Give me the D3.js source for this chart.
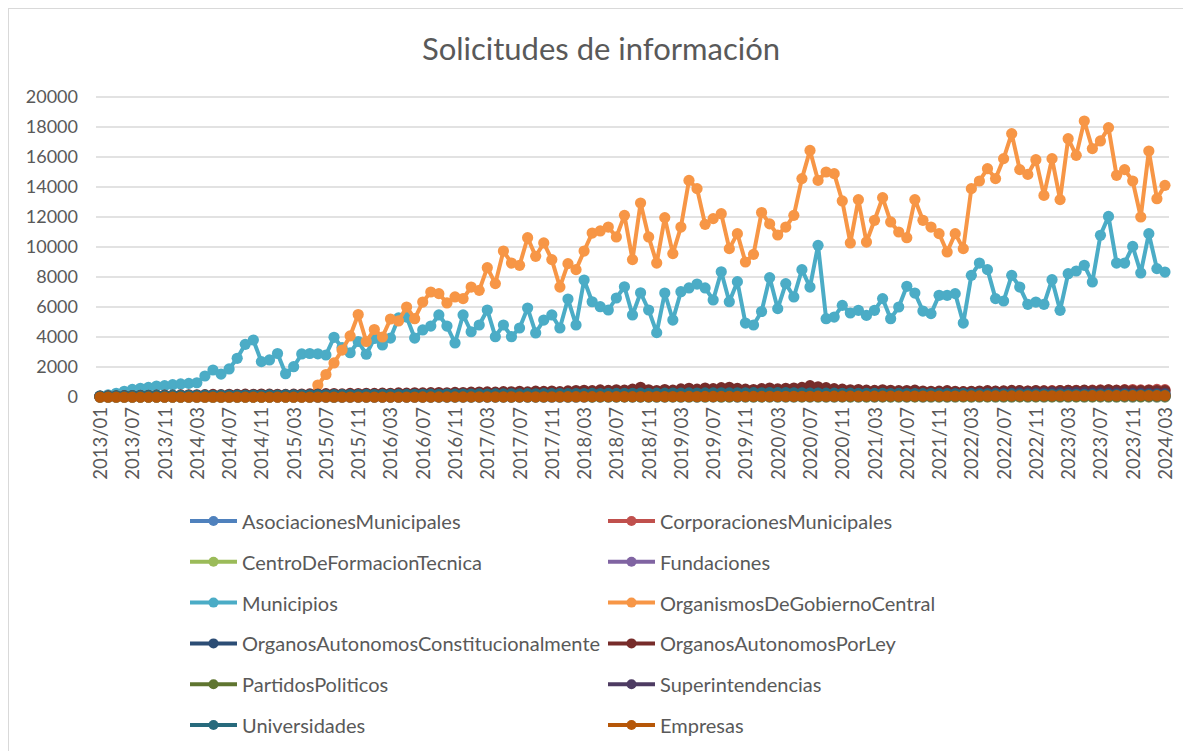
<!DOCTYPE html>
<html><head><meta charset="utf-8">
<script src="https://cdn.jsdelivr.net/npm/d3@7"></script>
<style>body{margin:0;background:#fff}svg{display:block}text{font-family:Lato,"Open Sans",sans-serif;fill:#595959}</style>
</head><body><svg id="c" width="1183" height="751"></svg>
<script>
const months = [
"2013/01","2013/04","2013/05","2013/06","2013/07","2013/08","2013/09","2013/10","2013/11","2013/12",
"2014/01","2014/02","2014/03","2014/04","2014/05","2014/06","2014/07","2014/08","2014/09","2014/10","2014/11","2014/12",
"2015/01","2015/02","2015/03","2015/04","2015/05","2015/06","2015/07","2015/08","2015/09","2015/10","2015/11","2015/12",
"2016/01","2016/02","2016/03","2016/04","2016/05","2016/06","2016/07","2016/08","2016/09","2016/10","2016/11","2016/12",
"2017/01","2017/02","2017/03","2017/04","2017/05","2017/06","2017/07","2017/08","2017/09","2017/10","2017/11","2017/12",
"2018/01","2018/02","2018/03","2018/04","2018/05","2018/06","2018/07","2018/08","2018/09","2018/10","2018/11","2018/12",
"2019/01","2019/02","2019/03","2019/04","2019/05","2019/06","2019/07","2019/08","2019/09","2019/10","2019/11","2019/12",
"2020/01","2020/02","2020/03","2020/04","2020/05","2020/06","2020/07","2020/08","2020/09","2020/10","2020/11","2020/12",
"2021/01","2021/02","2021/03","2021/04","2021/05","2021/06","2021/07","2021/08","2021/09","2021/10","2021/11","2021/12",
"2022/01","2022/02","2022/03","2022/04","2022/05","2022/06","2022/07","2022/08","2022/09","2022/10","2022/11","2022/12",
"2023/01","2023/02","2023/03","2023/04","2023/05","2023/06","2023/07","2023/08","2023/09","2023/10","2023/11","2023/12",
"2024/01","2024/02","2024/03"];

const yTicks = [0,2000,4000,6000,8000,10000,12000,14000,16000,18000,20000];

const asociaciones = [0,0,0,0,0,0,0,0,0,0,0,0,0,0,0,0,0,0,0,0,0,0,0,0,0,0,0,0,0,0,0,0,0,0,0,0,0,0,0,0,
2,1,3,2,4,2,3,1,2,4,3,2,5,3,4,2,3,5,4,3,6,4,5,3,4,6,5,4,3,5,4,6,5,3,4,5,6,4,5,3,
4,5,6,4,3,5,4,6,5,4,3,5,6,4,5,4,3,6,5,4,5,6,4,5,3,4,5,6,5,4,6,5,4,5,6,4,7,5,6,5,
4,6,5,7,6,5,4,6,5,7,6,5,6];
const corporaciones = [0,0,0,0,0,0,0,0,0,0,0,0,0,0,0,0,0,0,0,0,0,0,0,0,0,0,0,0,0,0,0,0,0,0,0,0,0,0,0,0,
10,15,20,18,25,22,30,28,35,30,40,38,45,50,48,55,60,58,65,70,80,75,90,85,100,95,110,105,120,115,130,125,140,135,150,145,160,155,170,165,
180,175,190,185,200,195,210,205,220,215,230,240,235,250,245,260,270,265,280,290,285,300,310,305,320,330,325,340,350,360,355,370,380,375,390,400,410,405,420,430,
440,450,430,460,470,480,460,490,500,470,480,510,490];
const centro = [0,0,0,0,0,0,0,0,0,0,0,0,0,0,0,0,0,0,0,0,1,0,1,0,1,1,0,1,1,0,1,1,2,1,1,0,1,2,1,1,
1,2,1,2,1,1,2,2,1,2,3,2,1,2,2,3,2,1,2,3,2,2,3,2,1,3,2,2,3,2,2,3,2,1,2,3,2,2,3,2,
3,2,2,3,2,1,2,3,2,2,3,2,2,3,2,2,3,2,1,2,3,2,2,3,2,2,3,2,2,3,2,2,3,2,2,3,2,2,3,2,
2,3,2,2,3,2,2,3,2,2,3,2,2];
const fundaciones = [0,0,0,0,0,0,0,0,0,0,0,0,0,0,0,0,0,0,0,0,0,0,0,0,0,0,0,0,0,0,0,0,0,0,0,0,0,0,0,0,
0,0,0,0,0,0,0,0,0,0,0,0,0,0,0,0,0,0,0,0,5,8,6,10,9,12,11,14,10,13,12,15,14,16,13,17,15,18,16,14,
17,19,18,20,22,19,21,18,20,23,21,19,22,24,20,23,21,22,25,23,21,24,22,26,24,22,25,27,23,26,24,25,28,26,24,27,25,28,30,27,
29,26,28,31,29,27,30,28,29,32,30,28,31];
const municipios = [80,150,250,380,510,580,640,730,755,820,870,910,950,1400,1800,1530,1870,2580,3510,3800,
2360,2470,2900,1550,2020,2870,2900,2880,2800,3980,3300,2950,3700,2850,3900,3470,3930,5270,5330,3930,
4470,4730,5470,4730,3600,5470,4350,4800,5800,4020,4800,4020,4600,5930,4270,5130,5470,4600,6530,4800,
7800,6350,6020,5800,6600,7350,5470,6950,5800,4290,6930,5130,7020,7270,7530,7270,6470,8350,6350,7690,
4930,4800,5700,7960,5890,7560,6670,8490,7330,10110,5220,5330,6110,5600,5780,5440,5780,6560,5220,6000,
7380,6930,5730,5560,6780,6780,6890,4930,8110,8930,8490,6560,6400,8110,7330,6180,6330,6180,7820,5780,
8220,8400,8780,7670,10780,12040,8930,8930,10040,8270,10890,8560,8330];
const organismos = [0,0,0,0,0,0,0,0,0,0,0,0,0,0,0,0,0,0,0,0,0,0,0,0,0,0,0,800,1500,2270,
3130,4070,5500,3700,4500,4000,5200,5070,6000,5220,6330,7000,6890,6270,6670,6560,7330,7110,8620,7560,
9730,8930,8780,10620,9380,10270,9160,7330,8890,8490,9730,10930,11070,11330,10670,12110,9160,12930,10670,8930,
11960,9560,11330,14440,13890,11510,11890,12220,9890,10890,9000,9510,12300,11540,10800,11330,12110,14560,16440,14440,
15000,14890,13070,10270,13160,10330,11780,13290,11670,11000,10620,13160,11780,11330,10890,9670,10890,9890,13890,14400,
15220,14560,15890,17560,15160,14840,15820,13440,15890,13160,17220,16110,18400,16560,17070,17960,14780,15160,14400,12000,
16400,13220,14110];
const constitucionales = [30,35,40,38,45,50,48,55,52,60,58,65,62,70,68,75,72,80,78,85,82,90,88,95,92,100,98,105,102,110,
108,115,112,120,118,125,122,130,128,135,132,140,138,145,142,150,148,155,152,160,158,165,162,170,168,175,172,180,178,185,
182,190,186,195,190,200,194,205,198,210,202,215,206,220,210,225,214,230,218,235,222,240,226,245,230,238,226,232,220,226,
214,220,208,214,202,208,196,202,190,196,184,190,178,184,172,178,166,172,160,166,154,160,148,154,142,148,136,142,130,136,
124,130,118,124,112,118,106,112,100,106,94,100,90];
const porLey = [60,70,80,90,100,110,110,120,130,120,140,150,150,160,170,160,180,170,190,180,200,190,180,170,
190,200,210,200,220,230,210,240,230,250,240,260,250,270,260,280,270,290,300,280,310,300,320,330,
340,320,360,350,380,340,390,370,400,360,410,430,450,420,470,440,480,460,520,650,480,430,500,460,
540,580,520,600,560,620,650,580,520,500,560,600,540,580,600,640,760,680,620,560,520,480,500,460,
440,480,450,420,430,460,400,380,390,420,380,360,380,400,420,390,410,440,420,400,430,410,390,420,
440,420,460,430,450,480,440,460,430,420,450,430,420];
const partidos = [0,0,0,0,0,0,0,0,0,0,0,0,2,3,2,4,3,5,4,3,5,4,6,5,4,6,5,7,6,5,7,6,8,7,6,8,7,9,8,7,
9,8,10,9,8,10,12,11,10,12,14,13,12,15,14,13,16,15,14,17,16,15,18,17,16,19,18,17,20,19,18,21,20,22,21,20,23,22,21,24,
23,22,25,24,23,26,25,24,27,26,25,28,27,26,29,28,27,30,29,28,31,30,29,32,31,30,33,32,31,34,33,32,35,34,33,36,35,34,37,36,
35,38,37,36,39,38,37,40,39,38,41,40,39];
const superintendencias = [40,45,50,55,52,60,58,65,62,70,68,75,72,80,78,85,82,90,88,95,92,100,98,105,102,110,108,115,112,120,
118,125,122,130,128,135,132,140,138,145,142,150,148,155,152,160,158,165,162,170,168,175,172,180,178,185,182,190,188,195,
192,200,198,205,202,210,208,215,212,220,218,225,222,230,228,235,232,240,238,245,242,250,248,255,252,260,258,265,262,255,
250,245,240,235,230,225,220,215,210,205,200,205,210,215,220,225,230,235,240,245,250,255,260,265,270,275,280,285,290,295,
300,295,290,285,280,275,270,265,260,255,250,245,240];
const universidades = [50,60,70,80,90,100,95,105,100,110,105,115,110,120,115,125,120,130,125,135,130,140,135,145,140,150,145,155,150,160,
155,165,160,170,165,175,170,180,175,185,180,190,185,195,190,200,195,205,200,210,205,215,210,220,215,225,220,230,225,235,
230,240,235,245,240,250,245,255,250,260,255,265,260,270,265,275,270,280,275,285,280,290,285,295,290,300,280,270,260,265,
255,260,250,255,245,250,240,245,235,240,230,235,225,230,220,225,215,220,210,215,205,210,200,205,195,200,190,195,185,190,
180,185,175,180,170,175,165,170,160,165,155,160,150];
const empresas = [0,0,0,0,0,0,0,0,0,0,0,0,0,0,0,0,0,0,0,0,0,0,0,0,0,0,0,0,0,0,0,0,0,0,0,0,0,0,0,0,
5,5,6,8,7,10,9,12,11,14,13,15,14,16,15,18,17,20,19,22,21,24,23,26,25,28,27,30,29,32,31,34,33,36,35,38,37,40,39,42,
41,44,43,46,45,48,47,50,49,52,51,54,53,56,55,58,57,60,59,62,61,64,63,66,65,68,67,70,69,72,71,74,73,76,75,78,77,80,79,82,
81,84,83,86,85,88,87,90,89,92,91,94,93];

const seriesNames = ["AsociacionesMunicipales","CorporacionesMunicipales","CentroDeFormacionTecnica","Fundaciones","Municipios","OrganismosDeGobiernoCentral","OrganosAutonomosConstitucionalmente","OrganosAutonomosPorLey","PartidosPoliticos","Superintendencias","Universidades","Empresas"];
const seriesValues = [asociaciones,corporaciones,centro,fundaciones,municipios,organismos,constitucionales,porLey,partidos,superintendencias,universidades,empresas];
const colors = ["#4F81BD","#C0504D","#9BBB59","#8064A2","#4BACC6","#F79646","#2C4D75","#772C2A","#5F7530","#4D3B62","#276A7C","#B65708"];

const svg = d3.select("#c");
svg.append("rect").attr("x",8.5).attr("y",8.5).attr("width",1190).attr("height",760).attr("fill","#fff").attr("stroke","#d9d9d9");

const x = d3.scalePoint().domain(months).range([96,1169]).padding(0.5);
const y = d3.scaleLinear().domain([0,20000]).range([397,97]);

svg.append("g").selectAll("line").data(yTicks).join("line")
  .attr("x1",96).attr("x2",1169).attr("y1",d=>y(d)).attr("y2",d=>y(d))
  .attr("stroke","#d9d9d9").attr("stroke-width",1.3);

const yAxis = svg.append("g").attr("transform","translate(84,0)")
  .call(d3.axisLeft(y).tickValues(yTicks).tickSize(0).tickPadding(6).tickFormat(d3.format("d")));
yAxis.select(".domain").remove();
yAxis.selectAll("text").attr("font-size",18).attr("font-family","Lato").attr("fill","#595959");

const xTickVals = months.filter((m,i)=>i%4===0);
const xAxis = svg.append("g").attr("transform","translate(0,397)")
  .call(d3.axisBottom(x).tickValues(xTickVals).tickSize(0).tickPadding(0));
xAxis.select(".domain").attr("stroke","#d9d9d9");
xAxis.selectAll("text").attr("font-size",18.5).attr("font-family","Lato").attr("fill","#595959")
  .attr("transform","rotate(-90)").attr("text-anchor","end").attr("dy","0.35em").attr("x",-10).attr("y",0);

const line = d3.line().x((d,i)=>x(months[i])).y(d=>y(d));
seriesValues.forEach((vals,k)=>{
  const g = svg.append("g");
  g.append("path").datum(vals).attr("d",line).attr("fill","none").attr("stroke",colors[k]).attr("stroke-width",4).attr("stroke-linejoin","round");
  g.selectAll("circle").data(vals).join("circle").attr("cx",(d,i)=>x(months[i])).attr("cy",d=>y(d)).attr("r",5.6).attr("fill",colors[k]);
});

svg.append("text").attr("x",601).attr("y",48).attr("text-anchor","middle").attr("dominant-baseline","central")
  .attr("font-size",31).text("Solicitudes de información");

const leg = svg.append("g");
seriesNames.forEach((n,k)=>{
  const col = k%2, row = Math.floor(k/2);
  const lx = col===0 ? 190 : 608, ly = 521 + row*40.8;
  leg.append("line").attr("x1",lx).attr("x2",lx+47).attr("y1",ly).attr("y2",ly).attr("stroke",colors[k]).attr("stroke-width",4);
  leg.append("circle").attr("cx",lx+23.5).attr("cy",ly).attr("r",5).attr("fill",colors[k]);
  leg.append("text").attr("x",lx+52).attr("y",ly).attr("dominant-baseline","central").attr("font-size",20).text(n);
});
</script></body></html>
